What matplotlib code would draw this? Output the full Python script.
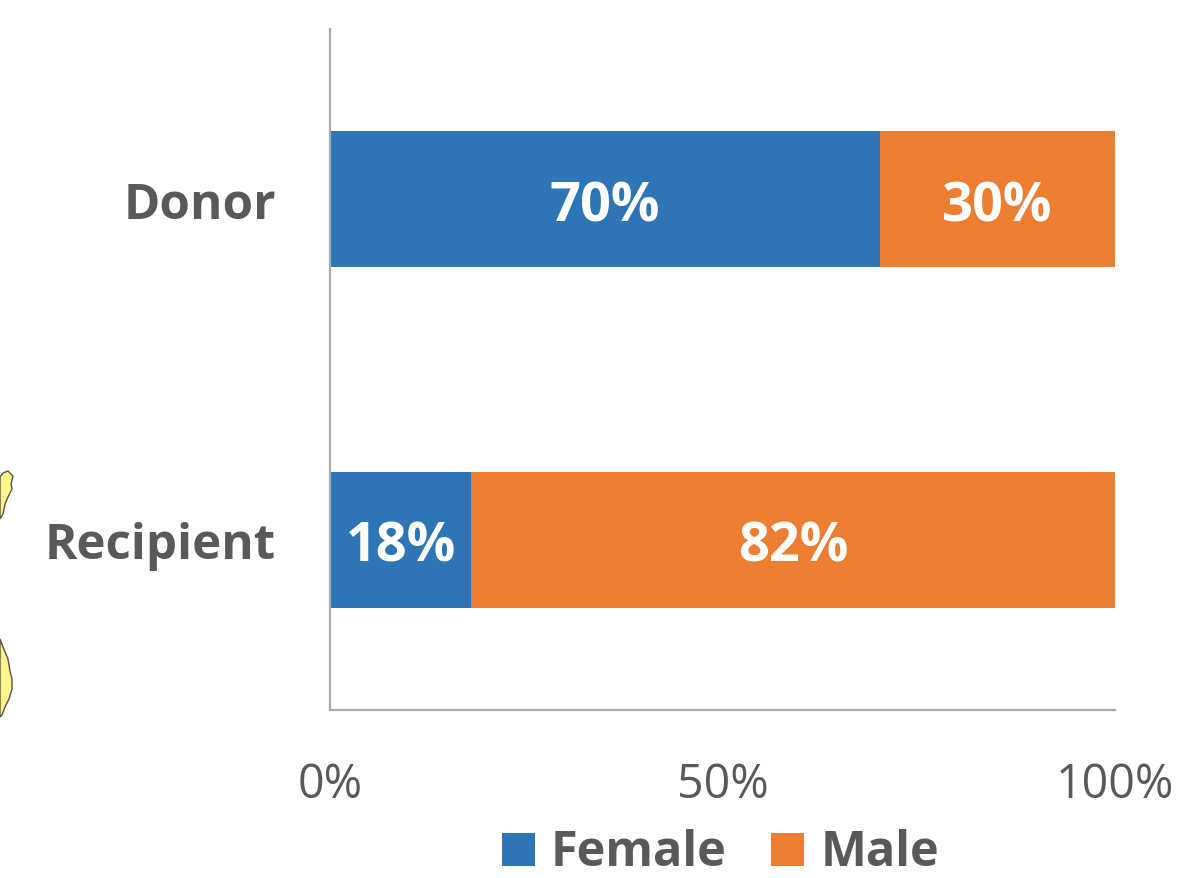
import matplotlib
matplotlib.use("Agg")
import matplotlib.pyplot as plt
from matplotlib.patches import Polygon, Rectangle

categories = ["Donor", "Recipient"]
female = [70, 18]
male = [30, 82]
xticks = [0, 50, 100]
xtick_labels = ["0%", "50%", "100%"]
series_names = ["Female", "Male"]

W, H = 1179, 879
BLUE, ORANGE, GREY = "#2E75B6", "#ED7D31", "#595959"
plt.rcParams["font.family"] = ["Open Sans", "DejaVu Sans"]

fig = plt.figure(figsize=(W / 100, H / 100), dpi=100, facecolor="white")
ax = fig.add_axes([330 / W, 1 - 711 / H, (1115 - 330) / W, 681 / H])

pos = list(range(len(categories)))
ax.barh(pos, female, height=0.4, color=BLUE, edgecolor="none")
ax.barh(pos, male, left=female, height=0.4, color=ORANGE, edgecolor="none")
ax.set_xlim(0, 100)
ax.set_ylim(1.5, -0.5)

for i, (f, m) in enumerate(zip(female, male)):
    ax.text(f / 2, i + 0.02, f"{f}%", ha="center", va="center", color="white",
            fontsize=39, fontweight="bold")
    ax.text(f + m / 2, i + 0.02, f"{m}%", ha="center", va="center", color="white",
            fontsize=39, fontweight="bold")

for s in ("top", "right"):
    ax.spines[s].set_visible(False)
for s in ("left", "bottom"):
    ax.spines[s].set_color("#ABABAB")
    ax.spines[s].set_linewidth(1.6)

ax.set_yticks(pos)
ax.set_yticklabels(categories, fontsize=35.5, fontweight="bold", color=GREY)
ax.set_xticks(xticks)
ax.set_xticklabels(xtick_labels, fontsize=33.5, color=GREY)
ax.tick_params(axis="y", length=0, pad=39)
ax.tick_params(axis="x", length=0, pad=36)

# Legend, placed in figure pixels
for (name, colour, bx, tx) in zip(series_names, (BLUE, ORANGE), (502, 771), (551, 821)):
    fig.add_artist(Rectangle((bx / W, 1 - 867 / H), 33 / W, 33 / H, transform=fig.transFigure,
                             facecolor=colour, edgecolor="none"))
    fig.text(tx / W, 1 - 866 / H, name, ha="left", va="baseline", fontsize=35,
             fontweight="bold", color=GREY)

# Stray yellow fragments at the left edge of the source image
frag1 = [(0, 478), (3, 474), (8, 472), (13, 477), (11, 485), (12, 490), (8, 498), (5, 505), (3, 515), (0, 520)]
frag2 = [(0, 640), (3, 648), (8, 660), (10, 672), (12, 680), (12, 690), (9, 700), (5, 708), (2, 716), (0, 718)]
for frag in (frag1, frag2):
    fig.add_artist(Polygon([(x / W, 1 - y / H) for x, y in frag], closed=True, transform=fig.transFigure,
                           facecolor="#FBF58C", edgecolor="#55554A", linewidth=1))

fig.savefig("out.png", dpi=100)
